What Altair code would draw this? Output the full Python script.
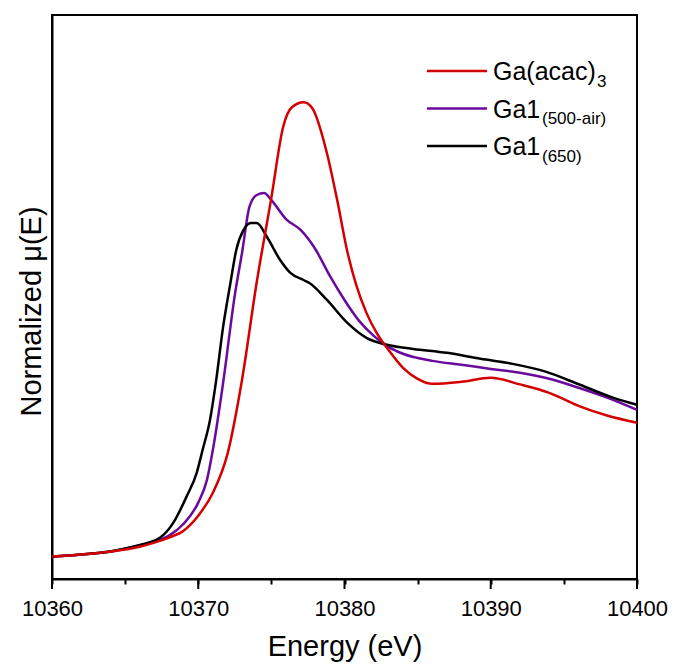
import altair as alt
import pandas as pd

# ---- data ----
series = ["Ga(acac)3", "Ga1(500-air)", "Ga1(650)"]
colors = ["#D40000", "#6A0A9C", "#000000"]
legend_main = ["Ga(acac)", "Ga1", "Ga1"]
legend_sub = ["3", "(500-air)", "(650)"]

E_red = [10360, 10362, 10364, 10366, 10367, 10368, 10369, 10370, 10371, 10372, 10373,
         10374, 10375, 10375.8, 10376.4, 10377.2, 10377.8, 10378.8, 10379.5, 10380.2,
         10380.8, 10381.5, 10382.2, 10383, 10384, 10385, 10386, 10388, 10390, 10392,
         10394, 10396, 10398, 10400]
mu_red = [0.0, 0.011, 0.027, 0.053, 0.075, 0.102, 0.139, 0.219, 0.342, 0.55, 0.95,
          1.47, 1.922, 2.299, 2.406, 2.433, 2.401, 2.16, 1.909, 1.631,
          1.455, 1.305, 1.198, 1.107, 1.011, 0.952, 0.925, 0.936, 0.957, 0.922,
          0.877, 0.807, 0.754, 0.717]

E_pur = [10360, 10362, 10364, 10366, 10367, 10368, 10369, 10370, 10370.6, 10371,
         10371.7, 10372.5, 10373, 10373.5, 10374, 10374.5, 10375, 10376, 10377, 10378,
         10379, 10380, 10381, 10382, 10383, 10384, 10386, 10388, 10390, 10392, 10394,
         10396, 10398, 10400]
mu_pur = [0.0, 0.011, 0.027, 0.059, 0.08, 0.112, 0.176, 0.289, 0.412, 0.572,
          0.93, 1.40, 1.63, 1.872, 1.936, 1.947, 1.909, 1.807, 1.749, 1.647,
          1.503, 1.374, 1.262, 1.182, 1.123, 1.086, 1.048, 1.027, 1.005, 0.984, 0.952,
          0.904, 0.85, 0.786]

E_blk = [10360, 10362, 10364, 10366, 10367, 10367.4, 10368.3, 10369.2, 10369.9, 10370.3,
         10370.8, 10371.2, 10371.7, 10372.2, 10372.6, 10373.1, 10373.6, 10374, 10374.7,
         10375.6, 10376.3, 10377.2, 10377.6, 10378.8, 10380.2, 10381.5, 10382.9, 10384.7,
         10387, 10389.3, 10391.5, 10393.8, 10396.1, 10398.4, 10400]
mu_blk = [0.0, 0.011, 0.027, 0.062, 0.085, 0.102, 0.182, 0.321, 0.45, 0.572,
          0.73, 0.93, 1.23, 1.465, 1.642, 1.749, 1.786, 1.786, 1.711,
          1.588, 1.519, 1.481, 1.465, 1.374, 1.251, 1.171, 1.134, 1.112,
          1.091, 1.059, 1.032, 0.989, 0.92, 0.85, 0.813]

x_ticks = list(range(10360, 10401, 5))
x_major = list(range(10360, 10401, 10))

frames = []
for name, E, mu in [(series[0], E_red, mu_red), (series[1], E_pur, mu_pur), (series[2], E_blk, mu_blk)]:
    frames.append(pd.DataFrame({"E": E, "mu": mu, "series": name}))
df = pd.concat(frames, ignore_index=True)
major_df = pd.DataFrame({"E": x_major})
one = pd.DataFrame({"k": [0]})

FONT = "Liberation Sans"
H = 564

xscale = alt.Scale(domain=[10360, 10400], nice=False, zero=False)
xenc = alt.X(
    "E:Q",
    scale=xscale,
    axis=alt.Axis(
        values=x_ticks, format="d", grid=False, tickSize=5,
        labelExpr="datum.value % 10 === 0 ? datum.label : ''",
        labelFlush=False, labelPadding=14, titlePadding=13,
    ),
    title="Energy (eV)",
)
yenc = alt.Y(
    "mu:Q",
    scale=alt.Scale(domain=[-0.12, 2.9], nice=False, zero=False),
    axis=alt.Axis(ticks=False, labels=False, grid=False, titlePadding=6, titleY=296),
    title="Normalized μ(E)",
)

layers = []
# major ticks (longer) at the labelled values
layers.append(
    alt.Chart(major_df).mark_rule(strokeWidth=2, color="black", clip=False).encode(
        x=xenc, y=alt.value(H), y2=alt.value(H + 10)
    )
)
draw_order = [1, 2, 0]
for i in draw_order:
    layers.append(
        alt.Chart(df).transform_filter(alt.datum.series == series[i])
        .mark_line(strokeWidth=2.5, interpolate="monotone", color=colors[i])
        .encode(x=xenc, y=yenc)
    )

# ---- legend (layout positions in plot-area pixels) ----
row_y = [56, 93.5, 131]
sub_x = [545, 490, 490]
for i in range(3):
    layers.append(
        alt.Chart(one).mark_rule(strokeWidth=2.5, color=colors[i]).encode(
            x=alt.value(375), x2=alt.value(435), y=alt.value(row_y[i])
        )
    )
    layers.append(
        alt.Chart(one).mark_text(text=legend_main[i], align="left", baseline="alphabetic",
                                 fontSize=25, font=FONT, color="black").encode(
            x=alt.value(441), y=alt.value(row_y[i] + 9)
        )
    )
    layers.append(
        alt.Chart(one).mark_text(text=legend_sub[i], align="left", baseline="alphabetic",
                                 fontSize=17, font=FONT, color="black").encode(
            x=alt.value(sub_x[i]), y=alt.value(row_y[i] + 15.5)
        )
    )

chart = alt.layer(*layers).properties(
    width=585, height=H,
    autosize=alt.AutoSizeParams(type="none"),
    padding={"left": 52, "top": 15, "right": 36, "bottom": 91},
).configure_view(
    stroke="black", strokeWidth=2
).configure_axis(
    labelFont=FONT, labelFontSize=22, labelColor="black",
    titleFont=FONT, titleFontSize=29, titleFontWeight="normal", titleColor="black",
    domainColor="black", domainWidth=2, tickColor="black", tickWidth=2,
)

chart.save("out.html", embed_options={"renderer": "svg", "actions": False})
